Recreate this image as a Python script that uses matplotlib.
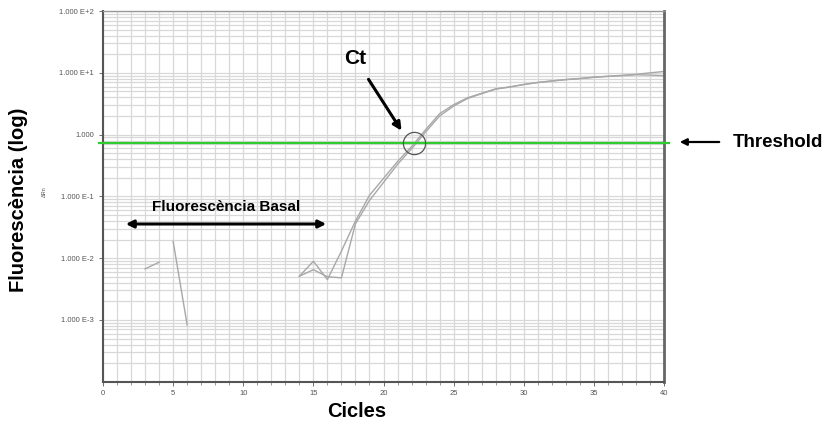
import numpy as np
import matplotlib
matplotlib.use('Agg')
import matplotlib.pyplot as plt
from matplotlib.ticker import FixedLocator, LogLocator, NullFormatter

plt.rcParams['font.family'] = ['Liberation Sans', 'DejaVu Sans']

# cicles i fluorescencia (NaN = no es dibuixa en escala log)
cicles = np.arange(0, 41)
nan = np.nan
serie_a = [nan, nan, nan, nan, nan, 0.0187, 0.00083, nan, nan, nan,
           nan, nan, nan, nan, 0.0051, 0.0089, 0.0045, 0.013, 0.040, 0.104,
           0.195, 0.367, 0.64, 1.2, 2.18, 3.05, 3.95, 4.67, 5.5, 5.9,
           6.5, 7.0, 7.4, 7.8, 8.1, 8.5, 8.8, 9.1, 9.45, 10.0, 10.5]
serie_b = [nan, nan, nan, 0.0067, 0.0086, nan, nan, nan, nan, nan,
           nan, nan, nan, nan, 0.0051, 0.0065, 0.0050, 0.0048, 0.036, 0.086,
           0.168, 0.33, 0.59, 1.1, 2.0, 2.9, 3.85, 4.6, 5.45, 5.9,
           6.45, 6.95, 7.35, 7.75, 8.05, 8.45, 8.75, 9.0, 9.3, 9.2, 9.0]
threshold = 0.72
ct = 22.2

ytick_vals = [1e-3, 1e-2, 1e-1, 1e0, 1e1, 1e2]
ytick_labels = ['1.000 E-3', '1.000 E-2', '1.000 E-1', '1.000', '1.000 E+1', '1.000 E+2']
xtick_vals = [0, 5, 10, 15, 20, 25, 30, 35, 40]

fig = plt.figure(figsize=(8.26, 4.25), dpi=100)
ax = fig.add_axes([0.1247, 0.1019, 0.6792, 0.8721])

ax.set_yscale('log')
ax.set_xlim(0, 40)
ax.set_ylim(1e-4, 1e2)

# quadricula
ax.xaxis.set_minor_locator(FixedLocator(np.arange(0, 41, 1)))
ax.yaxis.set_minor_locator(LogLocator(base=10, subs=np.arange(2, 10)))
ax.yaxis.set_minor_formatter(NullFormatter())
ax.grid(which='both', color='#d8d8d8', lw=0.9)
ax.set_axisbelow(True)

ax.set_yticks(ytick_vals)
ax.set_yticklabels(ytick_labels)
ax.set_xticks(xtick_vals)
ax.set_xticklabels([str(v) for v in xtick_vals])
ax.tick_params(axis='both', which='major', labelsize=5.5, colors='#555555', length=3, width=0.6)
ax.tick_params(axis='y', which='minor', length=0)
ax.tick_params(axis='x', which='minor', length=2, color='#888888')
ax.tick_params(axis='x', pad=3)

for s in ['left', 'bottom']:
    ax.spines[s].set_color('#555555')
    ax.spines[s].set_linewidth(1.5)
ax.spines['right'].set_color('#666666')
ax.spines['right'].set_linewidth(2.0)
ax.spines['top'].set_color('#999999')
ax.spines['top'].set_linewidth(1.0)

# corbes
ax.plot(cicles, serie_a, color='#a8a8a8', lw=1.0)
ax.plot(cicles, serie_b, color='#a8a8a8', lw=1.0)

# llindar
ax.axhline(threshold, xmin=-0.007, xmax=1.008, color='#2ecc2e', lw=1.6, clip_on=False, zorder=3)

# Ct
ax.plot([ct], [threshold], marker='o', ms=16, mfc='none', mec='#555555', mew=0.9, zorder=4)

fig.text(0.022, 0.53, 'Fluorescència (log)', rotation=90, fontsize=14.5, fontweight='bold',
         ha='center', va='center')
fig.text(0.432, 0.032, 'Cicles', fontsize=14.5, fontweight='bold', ha='center', va='center')
fig.text(0.054, 0.55, 'ΔRn', rotation=90, fontsize=4, color='#555555', ha='center', va='center')

fig.text(0.430, 0.863, 'Ct', fontsize=15, fontweight='bold', ha='center', va='center')
ax.annotate('', xy=(403 / 826, 1 - 133 / 425), xycoords='figure fraction',
            xytext=(367 / 826, 1 - 77 / 425), textcoords='figure fraction',
            arrowprops=dict(arrowstyle='-|>', color='black', lw=2.2, mutation_scale=12))

fig.text(0.887, 0.664, 'Threshold', fontsize=13.5, fontweight='bold', ha='left', va='center')
ax.annotate('', xy=(677 / 826, 1 - 142 / 425), xycoords='figure fraction',
            xytext=(722 / 826, 1 - 142 / 425), textcoords='figure fraction',
            arrowprops=dict(arrowstyle='-|>', color='black', lw=1.6, mutation_scale=10))

fig.text(226 / 826, 1 - 207 / 425, 'Fluorescència Basal', fontsize=11, fontweight='bold',
         ha='center', va='center')
ax.annotate('', xy=(123 / 826, 1 - 224 / 425), xycoords='figure fraction',
            xytext=(329 / 826, 1 - 224 / 425), textcoords='figure fraction',
            arrowprops=dict(arrowstyle='<|-|>', color='black', lw=2.2, mutation_scale=11))

fig.savefig('out.png', dpi=100)
